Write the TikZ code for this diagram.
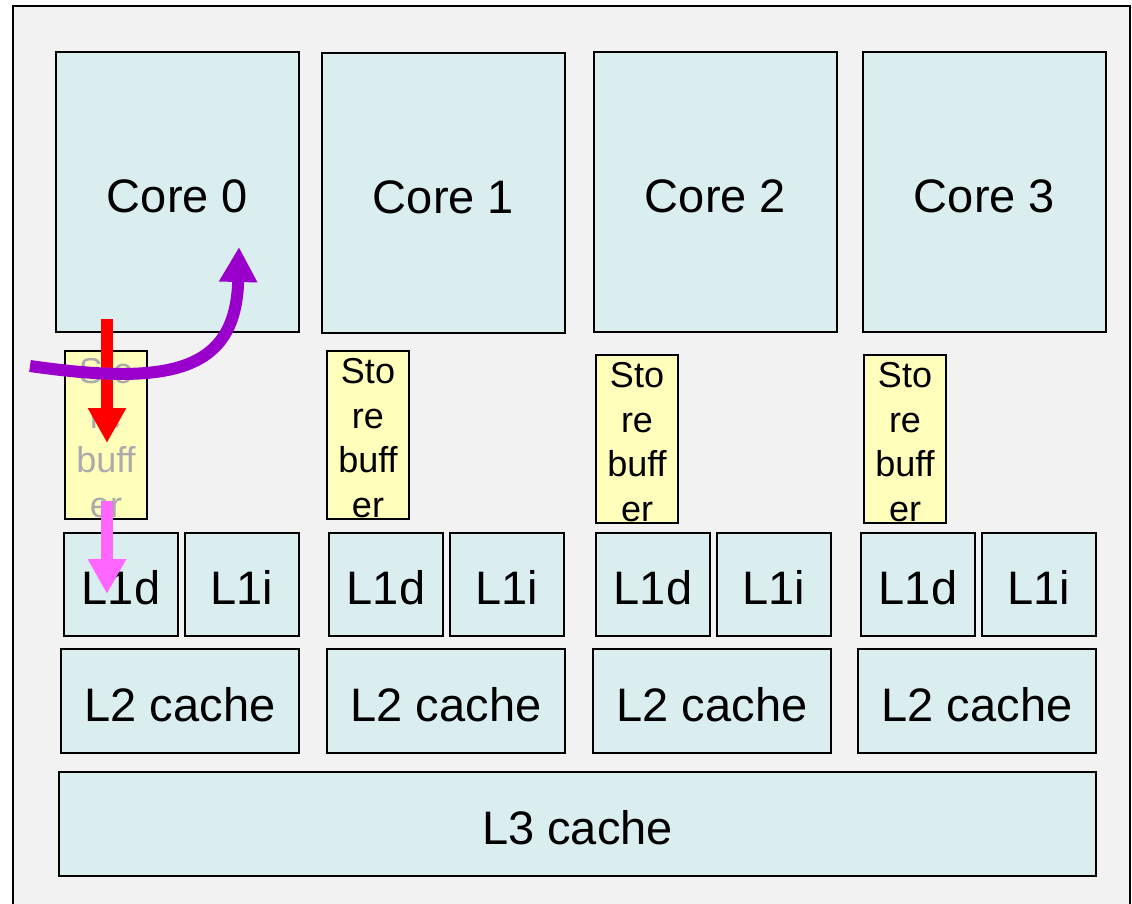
\documentclass[tikz,border=0pt]{standalone}
\usepackage{fontspec}
\setmainfont{Liberation Sans}
\usetikzlibrary{arrows.meta}
\definecolor{boxblue}{HTML}{DAEDEF}
\definecolor{sbyellow}{HTML}{FFFFBB}
\definecolor{bggray}{HTML}{F2F2F2}
\definecolor{arrred}{HTML}{FF0000}
\definecolor{arrpink}{HTML}{FF66FF}
\definecolor{arrpurple}{HTML}{9900CC}
\definecolor{sbgray}{HTML}{ABABAB}
\newcommand{\sbtext}{\rule{0pt}{31pt}Sto\\re\\buff\\er}
\begin{document}
\begin{tikzpicture}[x=1pt,y=-1pt,
  blk/.style={draw=black,line width=2pt,fill=boxblue,inner sep=0pt,outer sep=0pt},
  bigtxt/.style={font=\fontsize{47}{52}\selectfont,text height=40pt,text depth=0pt},
  sbox/.style={draw=black,line width=2pt,fill=sbyellow,inner sep=0pt,outer sep=0pt,
    minimum width=82pt,minimum height=168pt,align=center,
    font=\fontsize{36}{44.5}\selectfont},
  fat/.style={line width=12pt},
  tip/.style={-{Triangle[length=35pt,width=36pt]}}
]
\useasboundingbox (0,0) rectangle (1132,903);
\draw[line width=2pt,fill=bggray] (13,6) rectangle (1130,915);
% cores
\foreach \n/\x/\y in {0/55/51,1/321/52,2/593/51,3/862/51}{
  \node[blk,bigtxt,minimum width=243pt,minimum height=280pt,anchor=north west]
    (core\n) at (\x+1,\y+1) {Core \n};
}
% store buffers
\node[sbox,anchor=north west,text=sbgray] (sb0) at (65,351) {\sbtext};
\node[sbox,anchor=north west] (sb1) at (327,351) {\sbtext};
\node[sbox,anchor=north west] (sb2) at (596,355) {\sbtext};
\node[sbox,anchor=north west] (sb3) at (864,355) {\sbtext};
% L1
\foreach \n/\xd/\xi in {0/63/184,1/328/449,2/595/716,3/860/981}{
  \node[blk,bigtxt,minimum width=114pt,minimum height=103pt,anchor=north west]
    (l1d\n) at (\xd+1,533) {L1d};
  \node[blk,bigtxt,minimum width=114pt,minimum height=103pt,anchor=north west]
    (l1i\n) at (\xi+1,533) {L1i};
}
% L2
\foreach \n/\x in {0/60,1/326,2/592,3/857}{
  \node[blk,bigtxt,minimum width=238pt,minimum height=104pt,anchor=north west]
    (l2\n) at (\x+1,649) {L2 cache};
}
% L3
\node[blk,bigtxt,minimum width=1037pt,minimum height=104pt,anchor=north west]
  (l3) at (59,772) {L3 cache};
% arrows
\coordinate (redS) at (107,319);
\coordinate (redE) at (107,443);
\coordinate (pinkS) at (107,501);
\coordinate (pinkE) at (107,594);
\coordinate (purS) at (30,366);
\coordinate (purE) at (239,247);
\draw[fat,tip,arrred] (redS) -- (redE);
\draw[fat,tip,arrpink] (pinkS) -- (pinkE);
\draw[fat,tip,arrpurple] (purS) .. controls (170,386) and (236,372) .. (purE);
\end{tikzpicture}
\end{document}
